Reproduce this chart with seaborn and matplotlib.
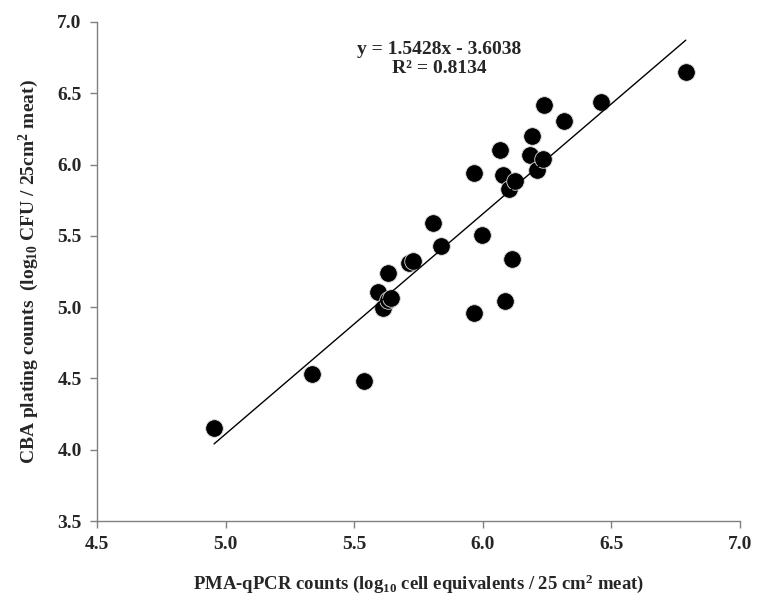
import matplotlib
matplotlib.use("Agg")
import matplotlib.pyplot as plt
import numpy as np
import pandas as pd
import seaborn as sns

# values
pma_qpcr = [4.955, 5.337, 5.537, 5.591, 5.612, 5.633, 5.643, 5.632, 5.714, 5.730,
            5.805, 5.836, 5.966, 5.968, 5.998, 6.067, 6.080, 6.086, 6.102, 6.116,
            6.125, 6.183, 6.190, 6.212, 6.233, 6.239, 6.317, 6.462, 6.790]
cba_plating = [4.149, 4.530, 4.483, 5.108, 4.994, 5.050, 5.066, 5.237, 5.311, 5.323,
               5.591, 5.428, 4.961, 5.941, 5.507, 6.102, 5.924, 5.043, 5.829, 5.334,
               5.887, 6.064, 6.197, 5.964, 6.039, 6.414, 6.307, 6.435, 6.650]
slope = 1.5428
intercept = -3.6038
r_squared = 0.8134
x_ticks = [4.5, 5.0, 5.5, 6.0, 6.5, 7.0]
y_ticks = [3.5, 4.0, 4.5, 5.0, 5.5, 6.0, 6.5, 7.0]

df = pd.DataFrame({"pma": pma_qpcr, "cba": cba_plating})

sns.set_style("white")
plt.rcParams["font.family"] = ["Liberation Serif", "DejaVu Serif"]
plt.rcParams["font.weight"] = "bold"
plt.rcParams["mathtext.fontset"] = "custom"
plt.rcParams["mathtext.rm"] = "Liberation Serif:bold"
plt.rcParams["mathtext.it"] = "Liberation Serif:bold"
plt.rcParams["mathtext.bf"] = "Liberation Serif:bold"

fig = plt.figure(figsize=(7.67, 6.08), dpi=100)
ax = fig.add_axes([0.1265, 0.143, 0.838, 0.821])

sns.scatterplot(data=df, x="pma", y="cba", ax=ax, s=160, color="black",
                edgecolor="#dddddd", linewidth=0.6, zorder=3)

# trendline over the data range
fit = pd.DataFrame({"x": [df["pma"].min(), df["pma"].max()]})
fit["y"] = slope * fit["x"] + intercept
sns.lineplot(data=fit, x="x", y="y", ax=ax, color="black", linewidth=1.0, zorder=4)

ax.set_xlim(4.5, 7.0)
ax.set_ylim(3.5, 7.0)
ax.set_xticks(x_ticks)
ax.set_yticks(y_ticks)
ax.set_xticklabels([f"{t:.1f}" for t in x_ticks], fontsize=14, fontweight="bold")
ax.set_yticklabels([f"{t:.1f}" for t in y_ticks], fontsize=14, fontweight="bold")
ax.tick_params(axis="both", direction="out", length=5, width=1, color="#808080",
               bottom=True, left=True, pad=6)
for side in ["top", "right"]:
    ax.spines[side].set_visible(False)
for side in ["left", "bottom"]:
    ax.spines[side].set_color("#808080")
    ax.spines[side].set_linewidth(1)

ax.set_xlabel("PMA-qPCR counts (log$_{10}$ cell equivalents / 25 cm$^{2}$ meat)",
              fontsize=13.5, fontweight="bold", labelpad=14)
ax.set_ylabel("CBA plating counts  (log$_{10}$ CFU / 25cm$^{2}$ meat)",
              fontsize=14, fontweight="bold", labelpad=12)

ax.text(5.83, 6.74, f"y = {slope}x - {abs(intercept)}\nR² = {r_squared}",
        ha="center", va="center", fontsize=14, fontweight="bold", linespacing=1.15)

fig.savefig("out.png", dpi=100)
